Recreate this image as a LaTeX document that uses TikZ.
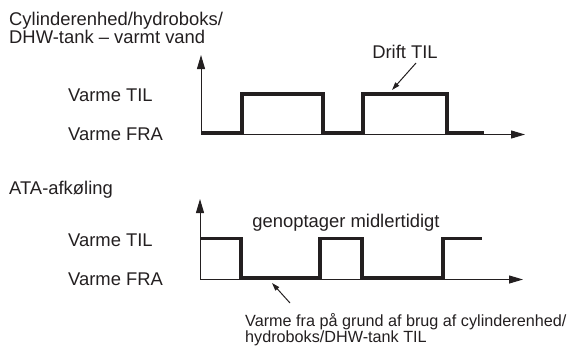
\documentclass[tikz,border=0pt]{standalone}
\usepackage{fontspec}
\setmainfont{Liberation Sans}
\usetikzlibrary{arrows.meta}
\definecolor{ink}{HTML}{231F20}
\begin{document}
\begin{tikzpicture}[x=1pt,y=-1pt,
  lbl/.style={inner sep=0pt, text=ink, font=\fontsize{18.4}{18.5}\selectfont},
  note/.style={inner sep=0pt, text=ink, font=\fontsize{16.2}{16.6}\selectfont},
  axis/.style={draw=ink, line width=1pt, -{Triangle[length=14pt,width=8pt]}},
  sig/.style={draw=ink, line width=3.5pt, line join=miter, line cap=butt},
  pointer/.style={draw=ink, line width=1pt, -{Triangle[length=8pt,width=5pt]}}]
\useasboundingbox (0,0) rectangle (569,345);
% top chart
\coordinate (o1) at (201,134.5);
\coordinate (y1) at (201,55);
\coordinate (x1) at (525,134.5);
\draw[axis] (o1) -- (y1);
\draw[axis] (o1) -- (x1);
\draw[sig] (201,133) -- (242,133) -- (242,94) -- (323,94) -- (323,133) -- (363,133) -- (363,94) -- (447,94) -- (447,133) -- (484,133);
% bottom chart
\coordinate (o2) at (200,279.5);
\coordinate (y2) at (200,199);
\coordinate (x2) at (523,279.5);
\draw[axis] (o2) -- (y2);
\draw[axis] (o2) -- (x2);
\draw[sig] (200,238.5) -- (241,238.5) -- (241,278) -- (320,278) -- (320,238.5) -- (362,238.5) -- (362,278) -- (443,278) -- (443,238.5) -- (482,238.5);
% labels
\node[lbl, anchor=north west, align=left] (title) at (9,11.5) {Cylinderenhed/hydroboks/\\DHW-tank – varmt vand};
\node[lbl, anchor=base west] (vt1) at (68,101.7) {Varme TIL};
\node[lbl, anchor=base west] (vf1) at (68,140) {Varme FRA};
\node[lbl, anchor=base west] (ata) at (9,194) {ATA-afkøling};
\node[lbl, anchor=base west] (vt2) at (68,246.7) {Varme TIL};
\node[lbl, anchor=base west] (vf2) at (68,285) {Varme FRA};
\node[lbl, anchor=base] (drift) at (405,58.3) {Drift TIL};
\node[lbl, anchor=base] (genop) at (346,227.3) {genoptager midlertidigt};
\node[note, anchor=north west, align=left] (note) at (245,313) {Varme fra på grund af brug af cylinderenhed/\\hydroboks/DHW-tank TIL};
% pointers
\coordinate (dtail) at (416,63);
\coordinate (dtip) at (392,90);
\draw[pointer] (dtail) -- (dtip);
\coordinate (ntail) at (290,303);
\coordinate (ntip) at (272,283);
\draw[pointer] (ntail) -- (ntip);
\end{tikzpicture}
\end{document}
